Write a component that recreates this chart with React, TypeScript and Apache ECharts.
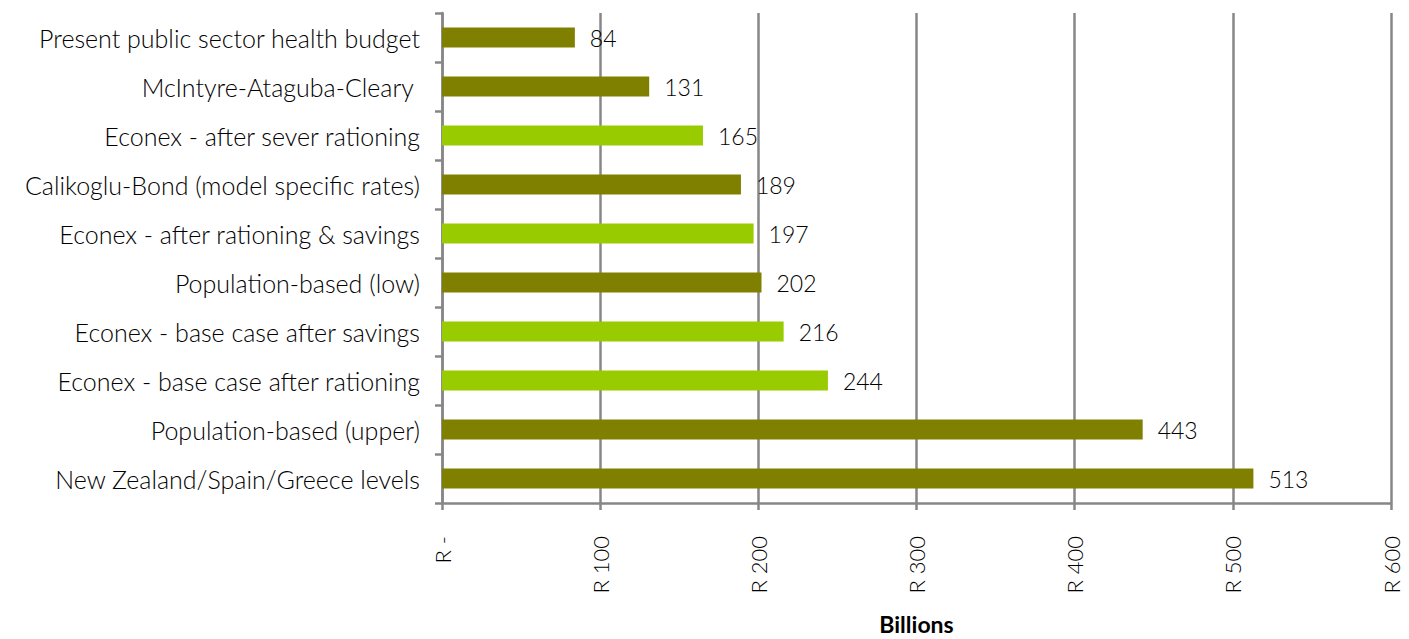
import React, { useEffect, useRef } from "react";
import * as echarts from "echarts";

const categories = [
  "Present public sector health budget",
  "McIntyre-Ataguba-Cleary ",
  "Econex - after sever rationing",
  "Calikoglu-Bond (model specific rates)",
  "Econex - after rationing & savings",
  "Population-based (low)",
  "Econex - base case after savings",
  "Econex - base case after rationing",
  "Population-based (upper)",
  "New Zealand/Spain/Greece levels",
];
const values = [84, 131, 165, 189, 197, 202, 216, 244, 443, 513];
const isEconex = [false, false, true, false, true, false, true, true, false, false];
const tickLabels: Record<number, string> = {
  0: "R -",
  100: "R 100",
  200: "R 200",
  300: "R 300",
  400: "R 400",
  500: "R 500",
  600: "R 600",
};

const DARK = "#808000";
const LIGHT = "#99CC00";
const GRAY = "#878787";
const FONT = "Lato";

export default function App() {
  const ref = useRef<HTMLDivElement>(null);
  useEffect(() => {
    if (!ref.current) return;
    const chart = echarts.init(ref.current, null, { renderer: "svg" });
    chart.setOption({
      animation: false,
      backgroundColor: "#ffffff",
      grid: {
        left: 442,
        right: 18,
        top: 13,
        bottom: 136,
        containLabel: false,
        outerBoundsMode: "none",
      },
      xAxis: {
        type: "value",
        min: 0,
        max: 600,
        interval: 100,
        name: "Billions",
        nameLocation: "middle",
        nameGap: 110,
        nameTextStyle: {
          fontFamily: FONT,
          fontSize: 23,
          lineHeight: 22,
          fontWeight: "bold",
          color: "#000",
        },
        axisLine: { show: true, lineStyle: { color: GRAY, width: 2.5 } },
        axisTick: { show: true, length: 7, lineStyle: { color: GRAY, width: 2.5 } },
        splitLine: { show: true, lineStyle: { color: GRAY, width: 2.5 } },
        axisLabel: {
          rotate: 90,
          margin: 33,
          fontFamily: FONT,
          fontSize: 22,
          fontWeight: 300,
          color: "#000",
          formatter: (v: number) => tickLabels[v] ?? String(v),
        },
      },
      yAxis: {
        type: "category",
        data: categories,
        inverse: true,
        axisLine: { show: true, lineStyle: { color: GRAY, width: 2.5 } },
        axisTick: { show: true, length: 7, lineStyle: { color: GRAY, width: 2.5 } },
        axisLabel: { margin: 22, fontFamily: FONT, fontSize: 25, fontWeight: 300, color: "#000" },
        splitLine: { show: false },
      },
      series: [
        {
          type: "bar",
          barWidth: 20,
          data: values.map((v, i) => ({
            value: v,
            itemStyle: { color: isEconex[i] ? LIGHT : DARK },
          })),
          label: {
            show: true,
            position: "right",
            distance: 15,
            fontFamily: FONT,
            fontSize: 23,
            fontWeight: 300,
            color: "#000",
          },
        },
      ],
    });
    return () => chart.dispose();
  }, []);
  return (
    <div
      ref={ref}
      style={{ position: "absolute", left: 0, top: 0, width: 1409, height: 639 }}
    />
  );
}
